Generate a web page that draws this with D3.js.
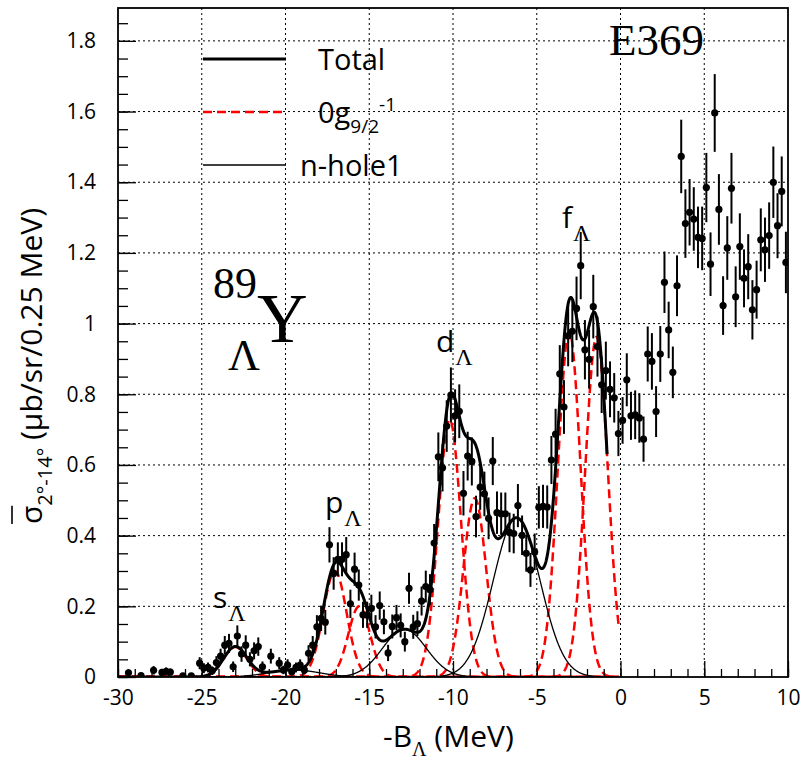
<!DOCTYPE html>
<html>
<head>
<meta charset="utf-8">
<script src="https://cdn.jsdelivr.net/npm/d3@7"></script>
<style>
  body { margin: 0; background: #fff; }
  svg { display: block; }
</style>
</head>
<body>
<svg id="chart"></svg>
<script>
(function() {

  var width = 805, height = 768;
  var sans = "'Open Sans', sans-serif";
  var serif = "'Liberation Serif', 'DejaVu Serif', serif";

  // -B_Lambda bin centres (0.25 MeV bins), cross section and errors
  var binCenters = [-29.375, -28.625, -27.875, -27.375, -27.125, -26.875, -26.125, -25.625,
    -25.125, -24.875, -24.625, -24.375, -24.125, -23.875, -23.625, -23.375, -23.125, -22.875,
    -22.625, -22.375, -22.125, -21.875, -21.625, -21.375, -20.875, -20.375, -20.125, -19.875,
    -19.625, -19.375, -19.125, -18.875, -18.625, -18.375, -18.125, -17.875, -17.625, -17.375,
    -17.125, -16.875, -16.625, -16.375, -16.125, -15.875, -15.625, -15.375, -15.125, -14.875,
    -14.625, -14.375, -14.125, -13.875, -13.625, -13.375, -13.125, -12.875, -12.625, -12.375,
    -12.125, -11.875, -11.625, -11.375, -11.125, -10.875, -10.625, -10.375, -10.125, -9.875,
    -9.625, -9.375, -9.125, -8.875, -8.625, -8.375, -8.125, -7.875, -7.625, -7.375, -7.125,
    -6.875, -6.625, -6.375, -6.125, -5.875, -5.625, -5.375, -5.125, -4.875, -4.625, -4.375,
    -4.125, -3.875, -3.625, -3.375, -3.125, -2.875, -2.625, -2.375, -2.125, -1.875, -1.625,
    -1.375, -1.125, -0.875, -0.625, -0.375, -0.125, 0.125, 0.375, 0.625, 0.875, 1.125, 1.375,
    1.625, 1.875, 2.125, 2.375, 2.625, 2.875, 3.125, 3.375, 3.625, 3.875, 4.125, 4.375, 4.625,
    4.875, 5.125, 5.375, 5.625, 5.875, 6.125, 6.375, 6.625, 6.875, 7.125, 7.375, 7.625, 7.875,
    8.125, 8.375, 8.625, 8.875, 9.125, 9.375, 9.625, 9.875];

  var crossSection = [0.012, 0.004, 0.019, 0.013, 0.016, 0.014, 0.003, 0.003,
    0.039, 0.025, 0.027, 0.018, 0.041, 0.059, 0.090, 0.095, 0.029, 0.116,
    0.065, 0.090, 0.050, 0.074, 0.086, 0.029, 0.059, 0.039, 0.020, 0.034,
    0.015, 0.027, 0.034, 0.020, 0.067, 0.090, 0.142, 0.166, 0.155, 0.374,
    0.293, 0.333, 0.333, 0.346, 0.207, 0.305, 0.260, 0.176, 0.176, 0.194,
    0.142, 0.202, 0.156, 0.068, 0.143, 0.168, 0.146, 0.100, 0.251, 0.142,
    0.151, 0.215, 0.256, 0.247, 0.379, 0.623, 0.592, 0.710, 0.798, 0.739,
    0.752, 0.520, 0.625, 0.610, 0.454, 0.537, 0.518, 0.449, 0.611, 0.465, 0.462,
    0.462, 0.409, 0.406, 0.485, 0.401, 0.350, 0.303, 0.354, 0.480, 0.483, 0.481,
    0.614, 0.687, 0.858, 0.764, 0.965, 0.978, 1.043, 1.164, 0.926, 0.899, 1.048,
    0.935, 0.827, 0.867, 0.814, 0.790, 0.689, 0.726, 0.841, 0.739, 0.742, 0.733, 0.673,
    0.914, 0.893, 0.751, 0.914, 1.117, 0.982, 0.862, 1.107, 1.473, 1.283, 1.315, 1.296, 1.244,
    1.241, 1.385, 1.168, 1.596, 1.323, 1.051, 1.214, 1.383, 1.076, 1.218, 1.128, 1.161, 1.039,
    1.096, 1.237, 1.209, 1.249, 1.400, 1.277, 1.374, 1.173];

  var crossSectionErr = [0.010, 0.006, 0.012, 0.010, 0.011, 0.010, 0.005, 0.005,
    0.017, 0.014, 0.014, 0.012, 0.018, 0.021, 0.026, 0.027, 0.015, 0.030,
    0.022, 0.028, 0.020, 0.024, 0.026, 0.015, 0.021, 0.017, 0.012, 0.016,
    0.011, 0.014, 0.016, 0.012, 0.023, 0.026, 0.033, 0.036, 0.035, 0.050,
    0.046, 0.048, 0.048, 0.050, 0.040, 0.047, 0.044, 0.037, 0.037, 0.039,
    0.033, 0.040, 0.035, 0.023, 0.034, 0.036, 0.034, 0.028, 0.044, 0.034,
    0.035, 0.041, 0.045, 0.044, 0.054, 0.069, 0.067, 0.073, 0.078, 0.075,
    0.076, 0.063, 0.069, 0.068, 0.059, 0.064, 0.063, 0.059, 0.068, 0.060, 0.060,
    0.060, 0.056, 0.056, 0.061, 0.056, 0.052, 0.048, 0.052, 0.060, 0.061, 0.061,
    0.068, 0.072, 0.081, 0.076, 0.086, 0.087, 0.090, 0.095, 0.084, 0.083, 0.090,
    0.085, 0.080, 0.082, 0.079, 0.070, 0.064, 0.066, 0.075, 0.068, 0.069, 0.070, 0.064,
    0.078, 0.080, 0.072, 0.079, 0.087, 0.080, 0.073, 0.086, 0.104, 0.097, 0.094, 0.090, 0.087,
    0.090, 0.098, 0.090, 0.110, 0.100, 0.083, 0.090, 0.100, 0.086, 0.094, 0.082, 0.092, 0.084,
    0.082, 0.089, 0.091, 0.094, 0.101, 0.092, 0.099, 0.087];

  // fitted peaks: 0g9/2^-1 (red dashed) and n-hole1 (thin black) gaussians
  var lambdaCenters = [-23.0, -17.05, -15.6, -10.2, -8.7, -3.06, -1.43];
  var lambdaHeights = [0.085, 0.30, 0.20, 0.728, 0.506, 0.977, 0.962];
  var lambdaWidths  = [0.70, 0.70, 0.65, 0.68, 0.68, 0.68, 0.68];
  var holeCenters = [-19.5, -12.9, -6.2];
  var holeHeights = [0.02, 0.135, 0.45];
  var holeWidths  = [1.5, 1.3, 1.4];
  var lambdaEnd = -0.1, holeEnd = -1.1, totalEnd = -0.8;

  var xTicks = [-30, -25, -20, -15, -10, -5, 0, 5, 10];
  var yTicks = [0, 0.2, 0.4, 0.6, 0.8, 1, 1.2, 1.4, 1.6, 1.8];

  var svg = d3.select("#chart")
    .attr("width", width)
    .attr("height", height)

  var xScale = d3.scaleLinear().domain([-30, 10]).range([118, 788]);
  var yScale = d3.scaleLinear().domain([0, 1.893]).range([677, 8]);

  svg.append("clipPath").attr("id", "frameclip")
    .append("rect")
    .attr("x", 118).attr("y", 8)
    .attr("width", 670).attr("height", 669)

  // grid
  svg.append("g").selectAll("line")
    .data(xTicks.slice(1, -1))
    .enter().append("line")
    .attr("x1", d => xScale(d)).attr("x2", d => xScale(d))
    .attr("y1", 8).attr("y2", 677)
    .attr("stroke", "#000").attr("stroke-width", 1)
    .attr("stroke-dasharray", "2,3")

  svg.append("g").selectAll("line")
    .data(yTicks.slice(1))
    .enter().append("line")
    .attr("x1", 118).attr("x2", 788)
    .attr("y1", d => yScale(d)).attr("y2", d => yScale(d))
    .attr("stroke", "#000").attr("stroke-width", 1)
    .attr("stroke-dasharray", "2,3")

  // fit curves
  function gauss(c, h, w) {
    return function(x) { return h * Math.exp(-(x - c) * (x - c) / (2 * w * w)) }
  }
  var lambdaFns = lambdaCenters.map((c, i) => gauss(c, lambdaHeights[i], lambdaWidths[i]))
  var holeFns = holeCenters.map((c, i) => gauss(c, holeHeights[i], holeWidths[i]))
  var totalFn = function(x) {
    return d3.sum(lambdaFns, f => f(x)) + d3.sum(holeFns, f => f(x))
  }

  var xs = d3.range(-30, lambdaEnd + 1e-9, 0.02)
  var line = d3.line().x(d => xScale(d[0])).y(d => yScale(d[1]))

  var curves = svg.append("g").attr("clip-path", "url(#frameclip)")

  lambdaFns.forEach(f => {
    curves.append("path")
      .attr("d", line(xs.map(x => [x, f(x)])))
      .attr("fill", "none")
      .attr("stroke", "#ff0000")
      .attr("stroke-width", 2.5)
      .attr("stroke-dasharray", "9,5")
  })

  holeFns.forEach(f => {
    curves.append("path")
      .attr("d", line(xs.filter(x => x <= holeEnd).map(x => [x, f(x)])))
      .attr("fill", "none")
      .attr("stroke", "#000")
      .attr("stroke-width", 1.3)
  })

  curves.append("path")
    .attr("d", line(xs.filter(x => x <= totalEnd).map(x => [x, totalFn(x)])))
    .attr("fill", "none")
    .attr("stroke", "#000")
    .attr("stroke-width", 3)

  // data points
  var points = binCenters.map((x, i) => ({ x: x, y: crossSection[i], e: crossSectionErr[i] }))
  var dataG = svg.append("g").attr("clip-path", "url(#frameclip)")

  dataG.selectAll("line")
    .data(points)
    .enter().append("line")
    .attr("x1", d => xScale(d.x)).attr("x2", d => xScale(d.x))
    .attr("y1", d => yScale(d.y - d.e)).attr("y2", d => yScale(d.y + d.e))
    .attr("stroke", "#000").attr("stroke-width", 2)

  dataG.selectAll("circle")
    .data(points)
    .enter().append("circle")
    .attr("cx", d => xScale(d.x))
    .attr("cy", d => yScale(d.y))
    .attr("r", 3.6)
    .attr("fill", "#000")

  // axes
  var yAxis = d3.axisLeft(yScale).tickValues(yTicks).tickSize(-18).tickPadding(22)
    .tickFormat(d => String(+d.toFixed(1)))
  var yMinor = d3.axisLeft(yScale).tickValues(d3.range(0, 1.89, 0.05)).tickSize(-10).tickFormat("")
  var xAxis = d3.axisBottom(xScale).tickValues(xTicks).tickSize(-16).tickPadding(13)
    .tickFormat(d => String(d))
  var xMinor = d3.axisBottom(xScale).tickValues(d3.range(-30, 10.01, 1)).tickSize(-8).tickFormat("")

  ;[[yMinor, "translate(118,0)"], [yAxis, "translate(118,0)"],
    [xMinor, "translate(0,677)"], [xAxis, "translate(0,677)"]].forEach(a => {
    var g = svg.append("g").attr("transform", a[1]).call(a[0])
    g.select(".domain").remove()
    g.selectAll(".tick line").attr("stroke", "#000").attr("stroke-width", 1.3)
    g.selectAll("text").attr("fill", "#000").style("font-family", sans).style("font-size", "21px")
  })

  svg.append("rect")
    .attr("x", 118).attr("y", 8)
    .attr("width", 670).attr("height", 669)
    .attr("fill", "none").attr("stroke", "#000").attr("stroke-width", 1.8)

  // axis titles
  var xt = svg.append("text")
    .attr("x", 383).attr("y", 747)
    .style("font-family", sans).style("font-size", "30px")
  xt.append("tspan").text("-B")
  xt.append("tspan").attr("dy", 9).style("font-family", serif).style("font-size", "20px").text("Λ")
  xt.append("tspan").attr("dy", -9).text(" (MeV)")

  var ytG = svg.append("g").attr("transform", "translate(42,524) rotate(-90)")
  var yt = ytG.append("text")
    .style("font-family", sans).style("font-size", "30px")
  yt.append("tspan").text("σ")
  yt.append("tspan").attr("dy", 10).style("font-size", "20px").text("2°-14°")
  yt.append("tspan").attr("dy", -10).text(" (μb/sr/0.25 MeV)")
  var sig = yt.node().getExtentOfChar(0)
  ytG.append("line")
    .attr("x1", sig.x).attr("x2", sig.x + sig.width)
    .attr("y1", -30).attr("y2", -30)
    .attr("stroke", "#000").attr("stroke-width", 1.6)

  // legend
  var legendRows = [
    { y: 59, stroke: "#000", w: 3, dash: null, tx: 318, label: "Total" },
    { y: 112, stroke: "#ff0000", w: 2.5, dash: "9,5", tx: 318, label: "0g" },
    { y: 165, stroke: "#000", w: 1.3, dash: null, tx: 300, label: "n-hole1" }
  ]
  legendRows.forEach(r => {
    svg.append("line")
      .attr("x1", 203).attr("x2", 286)
      .attr("y1", r.y).attr("y2", r.y)
      .attr("stroke", r.stroke).attr("stroke-width", r.w)
      .attr("stroke-dasharray", r.dash)
    var t = svg.append("text")
      .attr("x", r.tx).attr("y", r.y + 11)
      .style("font-family", sans).style("font-size", "29px")
    t.append("tspan").text(r.label)
    if (r.label === "0g") {
      t.append("tspan").attr("dy", 10).style("font-size", "19px").text("9/2")
      t.append("tspan").attr("dy", -22).style("font-size", "19px").text("-1")
    }
  })

  // annotations
  svg.append("text").attr("x", 609).attr("y", 55)
    .style("font-family", serif).style("font-size", "45px").text("E369")

  svg.append("text").attr("x", 213).attr("y", 298)
    .style("font-family", serif).style("font-size", "44px").text("89")
  svg.append("text").attr("x", 257).attr("y", 342)
    .style("font-family", serif).style("font-size", "70px").text("Y")
  svg.append("text").attr("x", 228).attr("y", 370)
    .style("font-family", serif).style("font-size", "44px").text("Λ")

  var peakLabels = [
    { x: 213, y: 608, letter: "s" },
    { x: 325, y: 513, letter: "p" },
    { x: 436, y: 352, letter: "d" },
    { x: 562, y: 228, letter: "f" }
  ]
  peakLabels.forEach(p => {
    var t = svg.append("text").attr("x", p.x).attr("y", p.y)
      .style("font-family", sans).style("font-size", "30px")
    t.append("tspan").text(p.letter)
    t.append("tspan").attr("dx", 1).attr("dy", 13).style("font-family", serif).style("font-size", "24px").text("Λ")
  })

})()
</script>
</body>
</html>
